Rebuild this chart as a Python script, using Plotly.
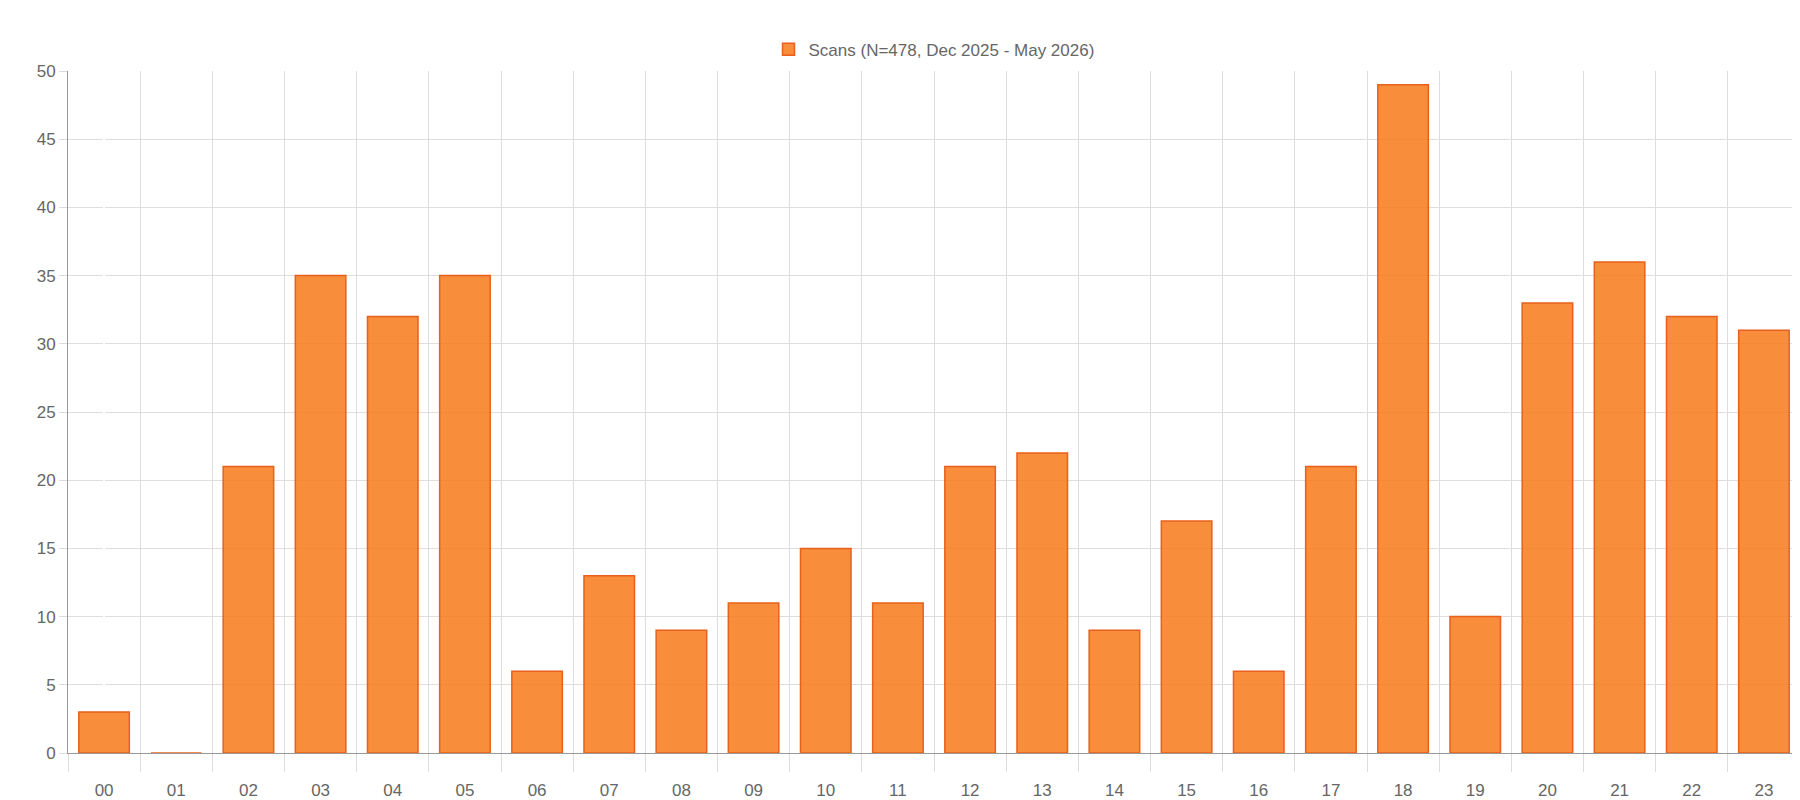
import plotly.graph_objects as go

hours = [f"{h:02d}" for h in range(24)]
scans = [3, 0, 21, 35, 32, 35, 6, 13, 9, 11, 15, 11, 21, 22, 9, 17, 6, 21, 49, 10, 33, 36, 32, 31]
series_name = "Scans (N=478, Dec 2025 - May 2026)"
xpos = list(range(len(hours)))
grid_pos = [i - 0.5 for i in range(len(hours) + 1)]

fig = go.Figure()
fig.add_trace(go.Bar(
    x=xpos, y=scans, name=series_name, width=0.7,
    marker=dict(color="rgba(247,125,32,0.88)", line=dict(color="#e8601c", width=1.5)),
))
fig.add_trace(go.Scatter(x=grid_pos, y=[None]*len(grid_pos), xaxis="x2", showlegend=False, hoverinfo="skip"))

font = dict(family="Liberation Sans, Arial", size=15, color="#666")
fig.update_layout(
    width=1800, height=800, plot_bgcolor="white", paper_bgcolor="white",
    margin=dict(l=60, r=8, t=63, b=40), font=font, bargap=0.3,
    showlegend=True,
    legend=dict(orientation="h", x=0.5, xanchor="center", y=1.005, yanchor="bottom", font=dict(size=17, color="#666")),
    xaxis=dict(range=[-0.5, 23.5], tickvals=xpos, ticktext=hours, showgrid=False, ticks="",
               showline=True, linecolor="#999", tickfont=dict(size=17), ticklabelstandoff=22, zeroline=False),
    xaxis2=dict(overlaying="x", range=[-0.5, 23.5], tickvals=grid_pos, showticklabels=False,
                showgrid=True, gridcolor="#ddd", ticks="outside", ticklen=18, tickcolor="#ddd", side="bottom"),
    yaxis=dict(range=[0, 50], dtick=5, gridcolor="#ddd", showline=True, linecolor="#999",
               ticks="outside", ticklen=8, tickcolor="#ddd", tickfont=dict(size=17), zeroline=False),
)
fig.write_html("out.html")
